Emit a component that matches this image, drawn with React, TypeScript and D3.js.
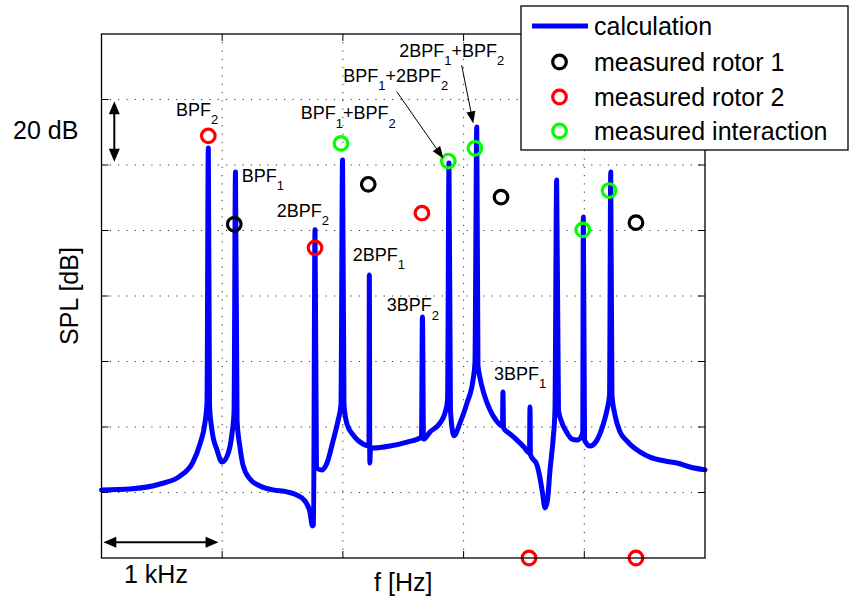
import React from 'react';
import * as d3 from 'd3';

// ---- calculated spectrum (f in kHz, SPL in dB, relative) ----
const curveFreq = [0, 0.236, 0.485, 0.650, 0.758, 0.816, 0.858, 0.874, 0.885, 0.895, 0.915, 0.957, 0.998, 1.048, 1.081, 1.098, 1.110, 1.123, 1.147, 1.172, 1.230, 1.313, 1.421, 1.537, 1.620, 1.686, 1.727, 1.748, 1.756, 1.769, 1.781, 1.827, 1.868, 1.918, 1.959, 1.984, 1.997, 2.009, 2.034, 2.084, 2.167, 2.216, 2.219, 2.223, 2.229, 2.249, 2.390, 2.531, 2.651, 2.659, 2.668, 2.722, 2.804, 2.846, 2.867, 2.879, 2.891, 2.920, 2.970, 3.028, 3.078, 3.094, 3.109, 3.119, 3.136, 3.169, 3.219, 3.268, 3.322, 3.326, 3.331, 3.384, 3.442, 3.500, 3.546, 3.550, 3.554, 3.608, 3.633, 3.654, 3.674, 3.695, 3.716, 3.741, 3.757, 3.771, 3.786, 3.807, 3.857, 3.898, 3.940, 3.973, 3.987, 3.992, 4.002, 4.047, 4.105, 4.155, 4.188, 4.209, 4.219, 4.229, 4.254, 4.296, 4.354, 4.403, 4.461, 4.544, 4.669, 4.768, 4.876, 5.0];
const curveSpl = [20.8, 21.1, 22.6, 25.0, 29.3, 34.8, 41.5, 47.3, 125.2, 46.7, 39.1, 33.0, 29.3, 31.8, 37.9, 44.3, 117.9, 42.1, 33.9, 28.4, 24.1, 22.0, 20.8, 20.2, 19.2, 17.4, 14.0, 9.8, 10.1, 100.2, 27.5, 26.9, 29.0, 35.7, 41.8, 46.7, 121.5, 46.7, 40.9, 37.6, 34.8, 34.2, 86.4, 29.0, 33.6, 33.6, 34.2, 35.4, 36.9, 73.6, 36.3, 38.5, 41.2, 44.3, 48.2, 120.6, 45.2, 37.3, 41.2, 47.3, 54.4, 59.5, 131.6, 58.9, 55.0, 50.1, 45.2, 42.1, 40.3, 50.7, 39.7, 37.9, 36.0, 33.9, 32.1, 46.1, 31.5, 28.4, 24.4, 19.8, 15.3, 17.7, 26.9, 36.0, 45.2, 115.4, 45.2, 42.1, 38.2, 36.3, 36.0, 36.9, 38.5, 104.1, 36.0, 34.2, 36.0, 40.6, 45.2, 49.8, 117.9, 49.8, 43.7, 38.5, 35.7, 33.9, 32.4, 30.8, 29.6, 29.0, 27.8, 26.9];

// ---- measurements ----
const rotor1Freq = [1.100, 2.210, 3.310, 4.428];
const rotor1Spl = [101.9, 114.1, 110.2, 102.4];
const rotor2Freq = [0.885, 1.769, 2.655, 3.542, 4.428];
const rotor2Spl = [128.9, 94.7, 105.3, 0, 0];
const interFreq = [1.984, 2.873, 3.094, 3.987, 4.205];
const interSpl = [126.6, 121.2, 125.1, 100.2, 112.2];

// ---- peak annotations ----
const peakLabels = ['BPF_2', 'BPF_1', '2BPF_2', 'BPF_1+BPF_2', '2BPF_1', '3BPF_2', 'BPF_1+2BPF_2', '2BPF_1+BPF_2', '3BPF_1'];
const labelFreq = [0.617, 1.162, 1.452, 1.650, 2.081, 2.363, 2.003, 2.467, 3.252];
const labelSpl = [135.0, 114.9, 104.2, 134.0, 90.8, 75.4, 145.4, 153.1, 54.4];
const arrowFromFreq = [2.446, 2.984];
const arrowFromSpl = [142.4, 150.5];
const arrowToFreq = [2.832, 3.080];
const arrowToSpl = [122.0, 132.7];

// ---- axes ----
const xTicks = [0, 1, 2, 3, 4, 5];
const yTicks = [0, 20, 40, 60, 80, 100, 120, 140, 160];
const legendLabels = ['calculation', 'measured rotor 1', 'measured rotor 2', 'measured interaction'];

const FONT = '"Liberation Sans", Arial, Helvetica, sans-serif';
const BLUE = '#0000ff';
const RED = '#ff0000';
const GREEN = '#00ff00';

function head(x1: number, y1: number, x2: number, y2: number, len: number, hw: number) {
  const dx = x2 - x1, dy = y2 - y1;
  const L = Math.sqrt(dx * dx + dy * dy);
  const ux = dx / L, uy = dy / L;
  const bx = x2 - ux * len, by = y2 - uy * len;
  return `${x2},${y2} ${bx - uy * hw},${by + ux * hw} ${bx + uy * hw},${by - ux * hw}`;
}

function Label({ s, x, y }: { s: string; x: number; y: number }) {
  const parts = s.split(/_(\d)/);
  const out: React.ReactNode[] = [];
  let shifted = false;
  parts.forEach((p, i) => {
    if (p === '') return;
    if (i % 2 === 1) {
      out.push(<tspan key={i} fontSize={13} dy={8.5}>{p}</tspan>);
      shifted = true;
    } else {
      out.push(<tspan key={i} fontSize={18} dy={shifted ? -8.5 : 0}>{p}</tspan>);
      shifted = false;
    }
  });
  return <text x={x} y={y} fontFamily={FONT} fill="#000">{out}</text>;
}

export default function App() {
  const W = 850, H = 601;
  const L = 101.5, R = 705, T = 34, B = 558;
  const x = d3.scaleLinear().domain([0, 5]).range([L, R]);
  const y = d3.scaleLinear().domain([0, 160]).range([B, T]);
  const line = d3
    .line<number>()
    .x((_, i) => x(curveFreq[i]))
    .y((_, i) => y(curveSpl[i]))
    .curve(d3.curveMonotoneX);
  const path = line(curveFreq) || '';

  const gridX = xTicks.slice(1, -1);
  const gridY = yTicks.slice(1, -1);
  const tick = 7;

  const mr = 6.8, msw = 3.2;

  // scale arrows
  const vX = x(0.106), vY1 = y(139.5), vY2 = y(121.0);
  const hY = y(4.8), hX1 = x(0.015), hX2 = x(0.97);

  const legX = 521, legY = 6, legW = 327, legH = 144;
  const rowY = [26, 62, 97, 131];

  return (
    <svg width={W} height={H} style={{ position: 'absolute', left: 0, top: 0, background: '#fff' }}>
      <rect x={0} y={0} width={W} height={H} fill="#fff" />
      {/* grid */}
      <g stroke="#333" strokeWidth={1} strokeDasharray="1.2 7.1">
        {gridX.map((t) => (
          <line key={'gx' + t} x1={x(t)} x2={x(t)} y1={B} y2={T} />
        ))}
        {gridY.map((t) => (
          <line key={'gy' + t} x1={L} x2={R} y1={y(t)} y2={y(t)} />
        ))}
      </g>
      {/* ticks */}
      <g stroke="#000" strokeWidth={1}>
        {gridX.map((t) => (
          <g key={'tx' + t}>
            <line x1={x(t)} x2={x(t)} y1={B} y2={B - tick} />
            <line x1={x(t)} x2={x(t)} y1={T} y2={T + tick} />
          </g>
        ))}
        {gridY.map((t) => (
          <g key={'ty' + t}>
            <line x1={L} x2={L + tick} y1={y(t)} y2={y(t)} />
            <line x1={R} x2={R - tick} y1={y(t)} y2={y(t)} />
          </g>
        ))}
      </g>
      {/* calculation */}
      <path d={path} fill="none" stroke={BLUE} strokeWidth={5} strokeLinejoin="round" strokeLinecap="round" />
      {/* measurements */}
      <g fill="none" strokeWidth={msw}>
        {rotor1Freq.map((f, i) => (
          <circle key={'r1' + i} cx={x(f)} cy={y(rotor1Spl[i])} r={mr} stroke="#000" />
        ))}
        {rotor2Freq.map((f, i) => (
          <circle key={'r2' + i} cx={x(f)} cy={y(rotor2Spl[i])} r={mr} stroke={RED} />
        ))}
        {interFreq.map((f, i) => (
          <circle key={'in' + i} cx={x(f)} cy={y(interSpl[i])} r={mr} stroke={GREEN} />
        ))}
      </g>
      {/* labels */}
      {peakLabels.map((s, i) => (
        <Label key={s} s={s} x={x(labelFreq[i])} y={y(labelSpl[i])} />
      ))}
      {arrowFromFreq.map((f, i) => {
        const x1 = x(f), y1 = y(arrowFromSpl[i]), x2 = x(arrowToFreq[i]), y2 = y(arrowToSpl[i]);
        const len = 12;
        const dx = x2 - x1, dy = y2 - y1, d = Math.sqrt(dx * dx + dy * dy);
        return (
          <g key={'ar' + i}>
            <line x1={x1} y1={y1} x2={x2 - (dx / d) * len * 0.8} y2={y2 - (dy / d) * len * 0.8} stroke="#000" strokeWidth={1} />
            <polygon points={head(x1, y1, x2, y2, len, 4.5)} fill="#000" />
          </g>
        );
      })}
      {/* frame */}
      <rect x={L} y={T} width={R - L} height={B - T} fill="none" stroke="#000" strokeWidth={1.3} />
      {/* 20 dB scale arrow */}
      <line x1={vX} x2={vX} y1={vY1 + 10} y2={vY2 - 10} stroke="#000" strokeWidth={2} />
      <polygon points={head(vX, vY2, vX, vY1, 13, 5.5)} fill="#000" />
      <polygon points={head(vX, vY1, vX, vY2, 13, 5.5)} fill="#000" />
      <text x={13} y={139} fontFamily={FONT} fontSize={25} fill="#000">20 dB</text>
      {/* 1 kHz scale arrow */}
      <line x1={hX1 + 10} x2={hX2 - 10} y1={hY} y2={hY} stroke="#000" strokeWidth={2} />
      <polygon points={head(hX2, hY, hX1, hY, 13, 5.5)} fill="#000" />
      <polygon points={head(hX1, hY, hX2, hY, 13, 5.5)} fill="#000" />
      <text x={124} y={583} fontFamily={FONT} fontSize={25} fill="#000">1 kHz</text>
      {/* axis labels */}
      <text x={(L + R) / 2} y={591} textAnchor="middle" fontFamily={FONT} fontSize={25} fill="#000">f [Hz]</text>
      <text transform={`translate(78,${(T + B) / 2}) rotate(-90)`} textAnchor="middle" fontFamily={FONT} fontSize={25} fill="#000">SPL [dB]</text>
      {/* legend */}
      <rect x={legX} y={legY} width={legW} height={legH} fill="#fff" stroke="#000" strokeWidth={1.3} />
      <line x1={532} x2={588} y1={rowY[0]} y2={rowY[0]} stroke={BLUE} strokeWidth={5} />
      <circle cx={559.5} cy={rowY[1]} r={mr} fill="none" stroke="#000" strokeWidth={msw} />
      <circle cx={559.5} cy={rowY[2]} r={mr} fill="none" stroke={RED} strokeWidth={msw} />
      <circle cx={559.5} cy={rowY[3]} r={mr} fill="none" stroke={GREEN} strokeWidth={msw} />
      {legendLabels.map((s, i) => (
        <text key={s} x={594} y={rowY[i] + 9} fontFamily={FONT} fontSize={25} fill="#000">{s}</text>
      ))}
    </svg>
  );
}
